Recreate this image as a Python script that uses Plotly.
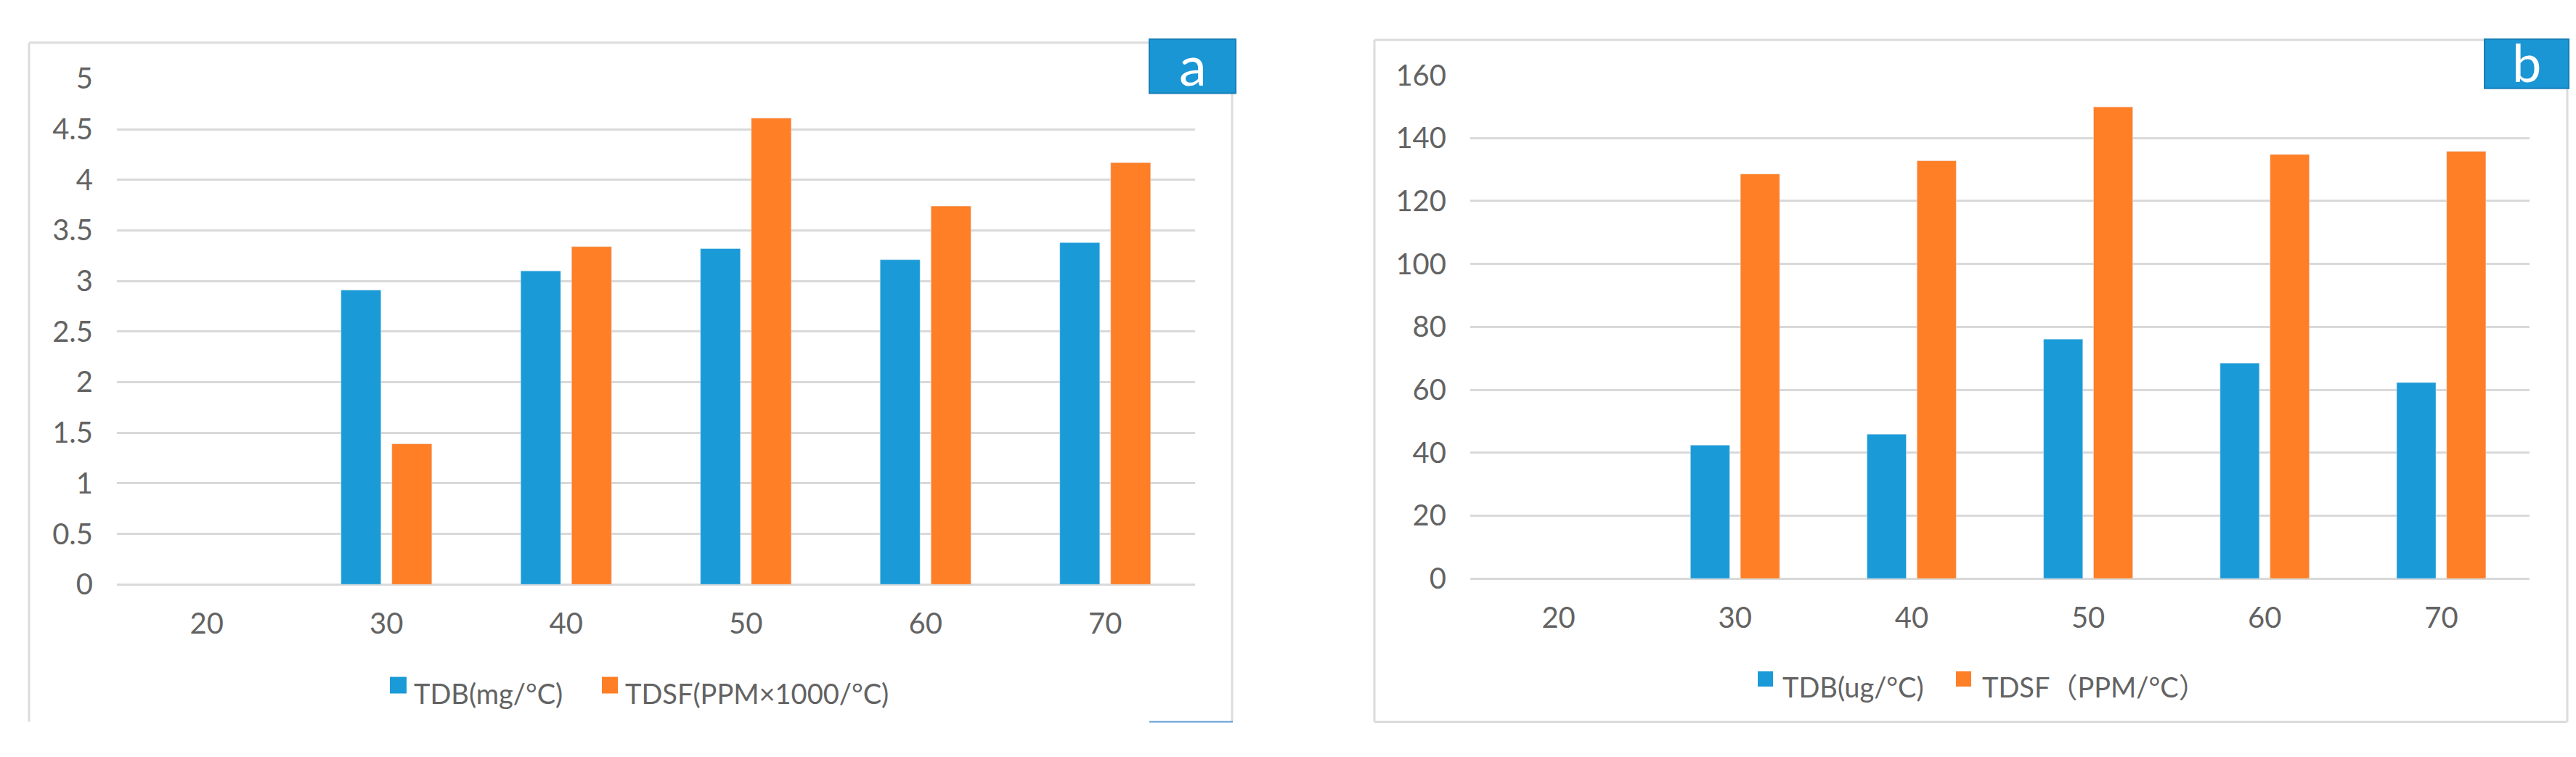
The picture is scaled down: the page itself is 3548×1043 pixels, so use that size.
import plotly.graph_objects as go

# ---- data ----
categories = ["20", "30", "40", "50", "60", "70"]
tdb_a = [None, 2.91, 3.10, 3.32, 3.21, 3.38]
tdsf_a = [None, 1.39, 3.34, 4.61, 3.74, 4.17]
tdb_b = [None, 42.4, 45.9, 76.1, 68.5, 62.3]
tdsf_b = [None, 128.6, 132.8, 149.9, 134.8, 135.8]
yticks_a = [0, 0.5, 1, 1.5, 2, 2.5, 3, 3.5, 4, 4.5, 5]
yticktext_a = ["0", "0.5", "1", "1.5", "2", "2.5", "3", "3.5", "4", "4.5", "5"]
yticks_b = [0, 20, 40, 60, 80, 100, 120, 140, 160]
yticktext_b = ["0", "20", "40", "60", "80", "100", "120", "140", "160"]
legend_a = ["TDB(mg/°C)", "TDSF(PPM×1000/°C)"]
legend_b = ["TDB(ug/°C)", "TDSF（PPM/°C）"]
panel_labels = ["a", "b"]

W, H = 3548, 1043
BLUE = "#1a9bd7"
ORANGE = "#fe7f26"
GRID = "#d9d9d9"
FRAME = "#dcdcdc"
TXT = "#636363"
FONT = "Lato, 'Noto Sans CJK SC', sans-serif"


def px(x):
    return x / W


def py(y):
    return 1 - y / H


fig = go.Figure()
fig.add_trace(go.Bar(x=categories, y=tdb_a, marker_color=BLUE, name=legend_a[0],
                     xaxis="x", yaxis="y", showlegend=False))
fig.add_trace(go.Bar(x=categories, y=tdsf_a, marker_color=ORANGE, name=legend_a[1],
                     xaxis="x", yaxis="y", showlegend=False))
fig.add_trace(go.Bar(x=categories, y=tdb_b, marker_color=BLUE, name=legend_b[0],
                     xaxis="x2", yaxis="y2", showlegend=False))
fig.add_trace(go.Bar(x=categories, y=tdsf_b, marker_color=ORANGE, name=legend_b[1],
                     xaxis="x2", yaxis="y2", showlegend=False))

xcommon = dict(type="category", categoryorder="array", categoryarray=categories,
               range=[-0.5, 5.5], showgrid=False, zeroline=False, showline=False,
               ticks="", tickfont=dict(family=FONT, size=40, color=TXT),
               ticklabelstandoff=27, fixedrange=True)
ycommon = dict(showgrid=True, gridcolor=GRID, gridwidth=3, zeroline=True,
               zerolinecolor=GRID, zerolinewidth=3, showline=False, ticks="",
               tickfont=dict(family=FONT, size=40, color=TXT),
               ticklabelstandoff=32, fixedrange=True)

fig.update_layout(
    width=W, height=H,
    margin=dict(l=0, r=0, t=0, b=0),
    paper_bgcolor="white", plot_bgcolor="white",
    barmode="group", bargap=0.434, bargroupgap=0.214,
    font=dict(family=FONT, color=TXT),
    xaxis=dict(domain=[px(153), px(1638)], anchor="y", **xcommon),
    yaxis=dict(domain=[py(809.5), py(79)], anchor="x", range=[0, 5],
               tickvals=yticks_a, ticktext=yticktext_a, **ycommon),
    xaxis2=dict(domain=[px(2017), px(3476)], anchor="y2", **xcommon),
    yaxis2=dict(domain=[py(801), py(74)], anchor="x2", range=[0, 160],
                tickvals=yticks_b, ticktext=yticktext_b, **ycommon),
)

shapes = []


def line(x0, y0, x1, y1, color=FRAME, width=3):
    shapes.append(dict(type="line", xref="paper", yref="paper",
                       x0=px(x0), y0=py(y0), x1=px(x1), y1=py(y1),
                       line=dict(color=color, width=width), layer="above"))


def rect(x0, y0, x1, y1, fill, lc=None, lw=0):
    shapes.append(dict(type="rect", xref="paper", yref="paper",
                       x0=px(x0), y0=py(y0), x1=px(x1), y1=py(y1),
                       fillcolor=fill, line=dict(color=lc or fill, width=lw),
                       layer="above"))


# panel a frame
line(32, 27, 32, 1008)
line(32, 27, 1575, 27)
line(1689, 100, 1689, 1008)
line(1575, 1008, 1690, 1008, color="#5b9bd5", width=2)
# panel b frame
line(1885, 23, 1885, 1008)
line(1885, 23, 3414, 23)
line(3528, 93, 3528, 1008)
line(1885, 1008, 3528, 1008)

# panel label boxes
rect(1575, 22, 1694, 100, "#1a96d4", "#177fb8", 2)
rect(3414, 22, 3530, 93, "#1a96d4", "#177fb8", 2)

# legend squares
rect(529, 943, 552, 967, BLUE)
rect(821, 943, 843, 967, ORANGE)
rect(2413, 935, 2434, 957, BLUE)
rect(2686, 935, 2707, 957, ORANGE)

annotations = []


def text(x, y, s, size=38, color=TXT, xanchor="left"):
    annotations.append(dict(xref="paper", yref="paper", x=px(x), y=py(y), text=s,
                            showarrow=False, xanchor=xanchor, yanchor="middle",
                            font=dict(family=FONT, size=size, color=color)))


text(560, 966, legend_a[0])
text(851, 966, legend_a[1])
text(2445, 957, legend_b[0])
text(2720, 957, legend_b[1])
text(1634.5, 58, panel_labels[0], size=76, color="white", xanchor="center")
text(3472, 55, panel_labels[1], size=72, color="white", xanchor="center")

fig.update_layout(shapes=shapes, annotations=annotations)
fig.write_html("out.html")
